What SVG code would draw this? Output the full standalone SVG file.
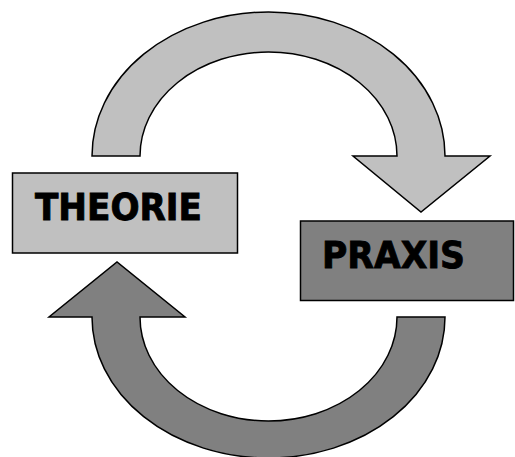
<svg xmlns="http://www.w3.org/2000/svg" width="515" height="457" viewBox="0 0 515 457">
<style>
.box{stroke:#000;stroke-width:1.5}
.arr{stroke:#000;stroke-width:1.5;stroke-linejoin:miter}
.lbl{font-family:"DejaVu Sans","Liberation Sans",sans-serif;font-weight:bold;font-size:37px;fill:#000;stroke:#000;stroke-width:0.9}
</style>
<rect width="515" height="457" fill="#fff"/>
<g id="connectors">
<path class="arr" fill="#c0c0c0" d="M92,156 A176.5,144 0 0 1 445,156 L490,156 L421,212 L353,156 L397,156 A128.5,104 0 0 0 140,156 Z"/>
<path class="arr" fill="#808080" d="M445,317 A176.5,141 0 0 1 92,317 L49,317 L117,262 L185,317 L140,317 A128.5,104 0 0 0 397,317 Z"/>
</g>
<g id="theorie">
<rect class="box" x="12.5" y="173" width="225" height="80" fill="#c0c0c0"/>
<text class="lbl" x="35" y="220" textLength="167" lengthAdjust="spacingAndGlyphs">THEORIE</text>
</g>
<g id="praxis">
<rect class="box" x="300.5" y="221" width="213" height="79.5" fill="#808080"/>
<text class="lbl" x="322" y="268" textLength="143" lengthAdjust="spacingAndGlyphs">PRAXIS</text>
</g>
</svg>
